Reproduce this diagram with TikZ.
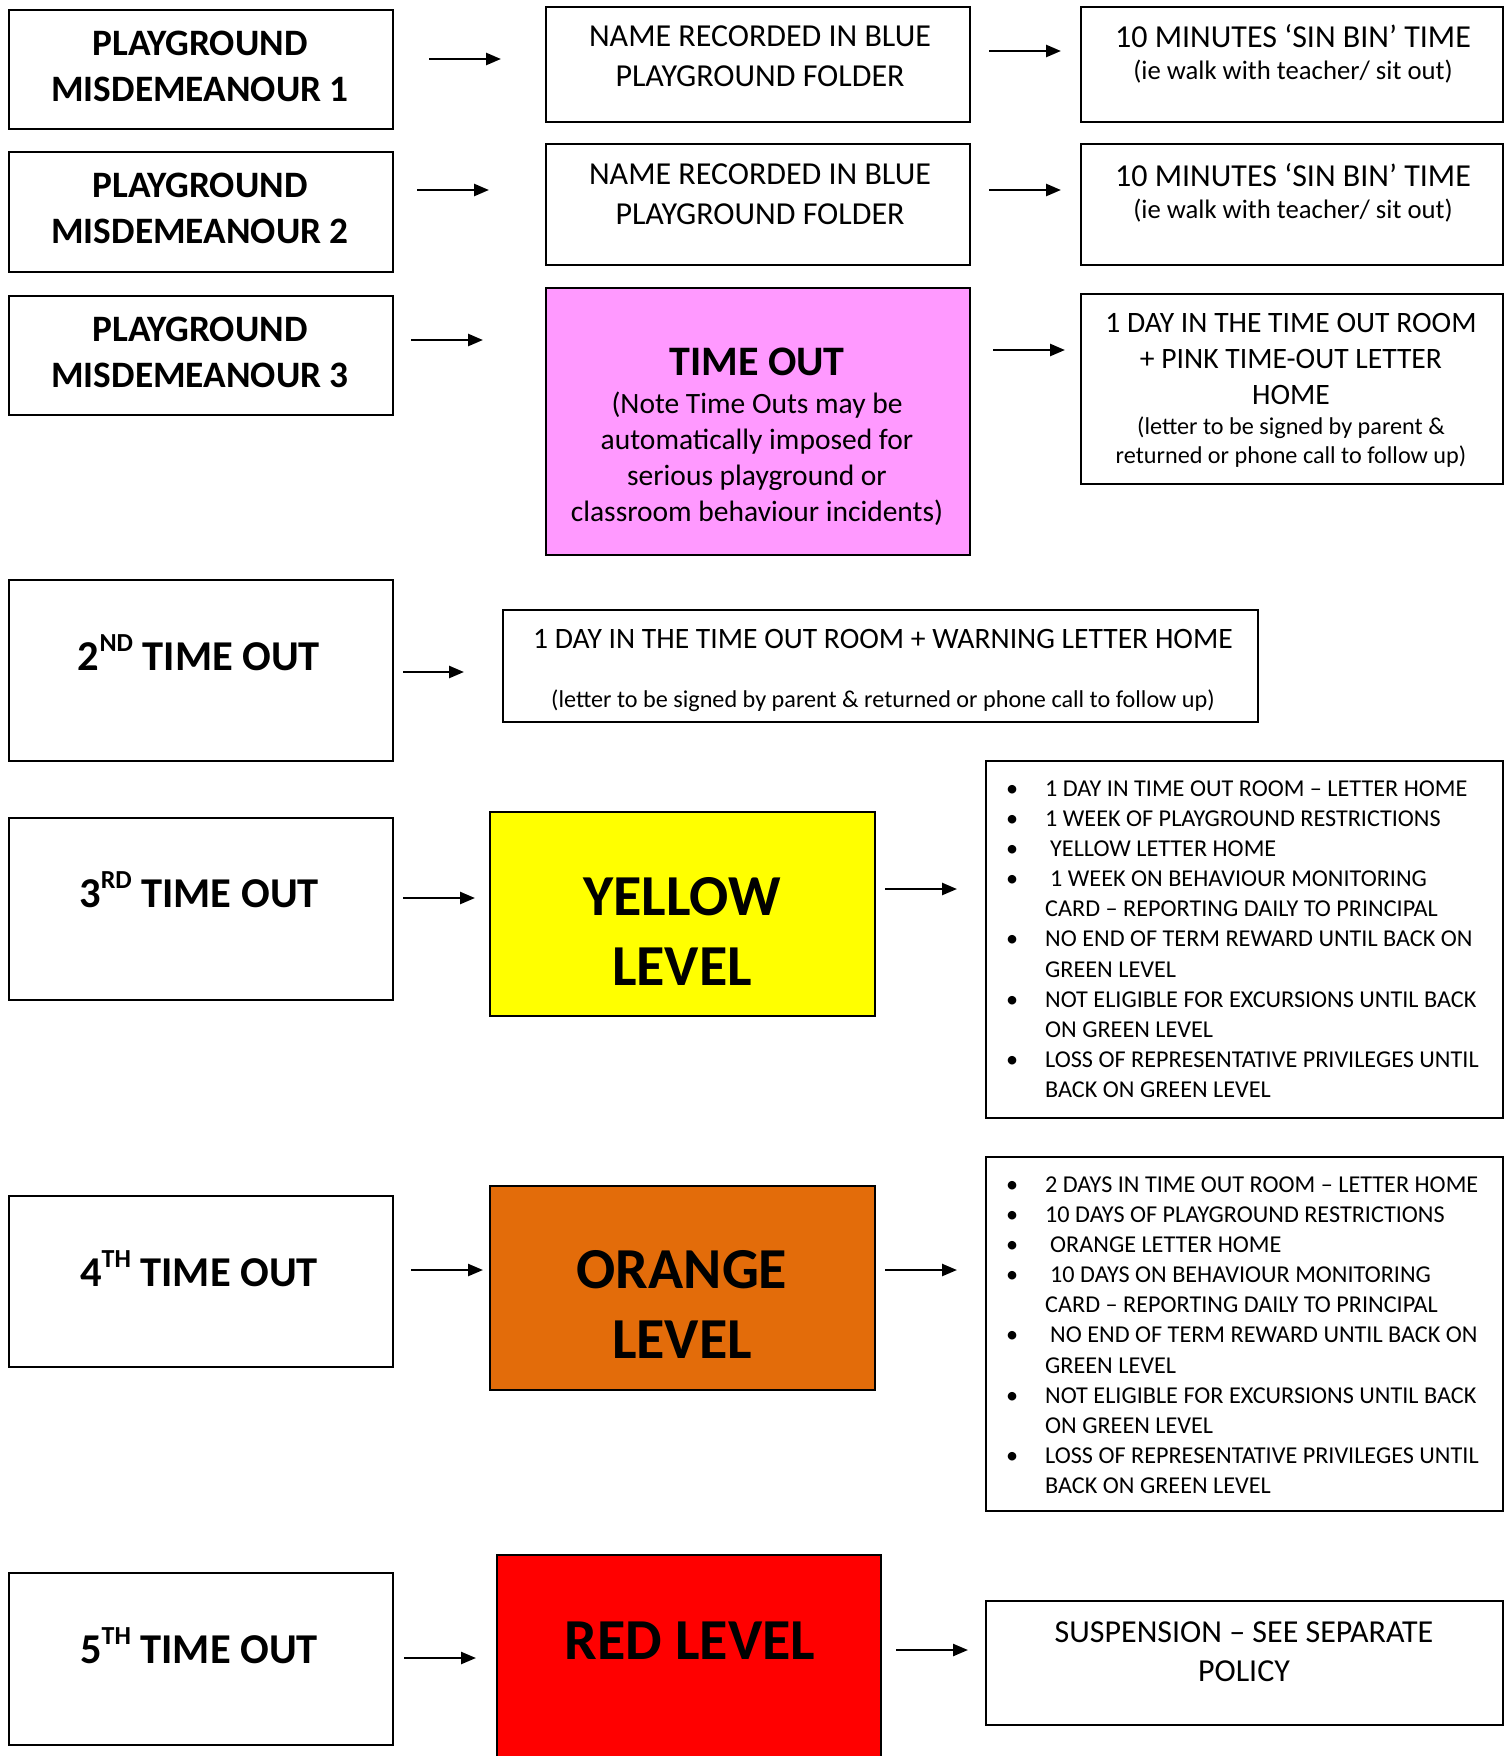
\documentclass[tikz,border=0pt]{standalone}
\usepackage{fontspec}
\setmainfont{Carlito}
\usetikzlibrary{arrows.meta}
\definecolor{pinkbox}{HTML}{FF99FF}
\definecolor{yellowbox}{HTML}{FFFF00}
\definecolor{orangebox}{HTML}{E36C0A}
\definecolor{redbox}{HTML}{FF0000}
\newcommand{\fs}[2]{\fontsize{#1}{#2}\selectfont}
\newcommand{\bitem}{\makebox[40pt][l]{\hspace{1pt}\textbullet}}
\newcommand{\bcont}{\hspace*{40pt}}
\newcommand{\supr}[1]{\raisebox{19pt}{\fs{26}{26}#1}}
\begin{document}
\begin{tikzpicture}[x=1pt,y=-1pt,
  box/.style={draw=black, line width=2pt, rectangle, inner sep=0pt, anchor=north west},
  txt/.style={inner sep=0pt, align=center},
  arr/.style={-{Triangle[length=15pt,width=12pt]}, line width=2.5pt},
  pmtext/.style={txt, font=\bfseries\fs{37.3}{46}},
  totext/.style={txt, font=\bfseries\fs{42.5}{46}},
  midtext/.style={txt, font=\fs{32}{40}},
  smalltext/.style={txt, font=\fs{26.7}{30}},
  leveltext/.style={txt, font=\bfseries\fs{58}{70}},
  listtext/.style={inner sep=0pt, anchor=north west, align=left, font=\fs{24.2}{30.1}},
]
\useasboundingbox (0,0) rectangle (1505,1756);

% ---- boxes ----
\node[box, minimum width=384pt, minimum height=119pt] (pm1) at (8,9) {};
\node[box, minimum width=384pt, minimum height=120pt] (pm2) at (8,151) {};
\node[box, minimum width=384pt, minimum height=119pt] (pm3) at (8,295) {};
\node[box, minimum width=424pt, minimum height=115pt] (nm1) at (545,6) {};
\node[box, minimum width=424pt, minimum height=121pt] (nm2) at (545,143) {};
\node[box, fill=pinkbox, minimum width=424pt, minimum height=267pt] (pink) at (545,287) {};
\node[box, minimum width=422pt, minimum height=115pt] (sb1) at (1080,6) {};
\node[box, minimum width=422pt, minimum height=121pt] (sb2) at (1080,143) {};
\node[box, minimum width=422pt, minimum height=190pt] (day) at (1080,293) {};
\node[box, minimum width=384pt, minimum height=181pt] (to2) at (8,579) {};
\node[box, minimum width=755pt, minimum height=112pt] (warn) at (502,609) {};
\node[box, minimum width=384pt, minimum height=182pt] (to3) at (8,817) {};
\node[box, fill=yellowbox, minimum width=385pt, minimum height=204pt] (yel) at (489,811) {};
\node[box, minimum width=517pt, minimum height=357pt] (ylist) at (985,760) {};
\node[box, minimum width=384pt, minimum height=171pt] (to4) at (8,1195) {};
\node[box, fill=orangebox, minimum width=385pt, minimum height=204pt] (ora) at (489,1185) {};
\node[box, minimum width=517pt, minimum height=354pt] (olist) at (985,1156) {};
\node[box, minimum width=384pt, minimum height=172pt] (to5) at (8,1572) {};
\node[box, fill=redbox, minimum width=384pt, minimum height=230pt] (red) at (496,1554) {};
\node[box, minimum width=517pt, minimum height=124pt] (susp) at (985,1600) {};

% ---- texts ----
\node[pmtext] (pm1t) at (200,66.5) {PLAYGROUND\\MISDEMEANOUR 1};
\node[pmtext] (pm2t) at (200,208) {PLAYGROUND\\MISDEMEANOUR 2};
\node[pmtext] (pm3t) at (200,352) {PLAYGROUND\\MISDEMEANOUR 3};

\node[midtext] (nm1t) at (760,56) {NAME RECORDED IN BLUE\\PLAYGROUND FOLDER};
\node[midtext] (nm2t) at (760,194) {NAME RECORDED IN BLUE\\PLAYGROUND FOLDER};

\node[midtext] (sb1a) at (1293,36) {10 MINUTES ‘SIN BIN’ TIME};
\node[smalltext] (sb1b) at (1293,72) {(ie walk with teacher/ sit out)};
\node[midtext] (sb2a) at (1293,175) {10 MINUTES ‘SIN BIN’ TIME};
\node[smalltext] (sb2b) at (1293,211) {(ie walk with teacher/ sit out)};

\node[txt, font=\bfseries\fs{42}{46}] (pinkt) at (757,362) {TIME OUT};
\node[txt, font=\fs{29.5}{36}] (pinkn) at (757,459) {(Note Time Outs may be\\automatically imposed for\\serious playground or\\classroom behaviour incidents)};

\node[txt, font=\fs{29.6}{36}] (dayt) at (1291,359) {1 DAY IN THE TIME OUT ROOM\\+ PINK TIME-OUT LETTER\\HOME};
\node[txt, font=\fs{24.2}{29}] (dayn) at (1291,442) {(letter to be signed by parent \&\\returned or phone call to follow up)};

\node[totext] (to2t) at (199,653) {2\supr{ND} TIME OUT};
\node[txt, font=\fs{29.6}{36}] (warnt) at (883,639) {1 DAY IN THE TIME OUT ROOM + WARNING LETTER HOME};
\node[txt, font=\fs{24.2}{29}] (warnn) at (883,701) {(letter to be signed by parent \& returned or phone call to follow up)};

\node[totext] (to3t) at (199,890) {3\supr{RD} TIME OUT};
\node[leveltext] (yelt) at (682,931) {YELLOW\\LEVEL};
\node[listtext] (ylt) at (1005,780.5) {%
\bitem 1 DAY IN TIME OUT ROOM – LETTER HOME\\
\bitem 1 WEEK OF PLAYGROUND RESTRICTIONS\\
\bitem\hspace*{5pt}YELLOW LETTER HOME\\
\bitem\hspace*{5pt}1 WEEK ON BEHAVIOUR MONITORING\\
\bcont CARD – REPORTING DAILY TO PRINCIPAL\\
\bitem NO END OF TERM REWARD UNTIL BACK ON\\
\bcont GREEN LEVEL\\
\bitem NOT ELIGIBLE FOR EXCURSIONS UNTIL BACK\\
\bcont ON GREEN LEVEL\\
\bitem LOSS OF REPRESENTATIVE PRIVILEGES UNTIL\\
\bcont BACK ON GREEN LEVEL};

\node[totext] (to4t) at (199,1269) {4\supr{TH} TIME OUT};
\node[leveltext] (orat) at (682,1304.5) {ORANGE\\LEVEL};
\node[listtext] (olt) at (1005,1176.5) {%
\bitem 2 DAYS IN TIME OUT ROOM – LETTER HOME\\
\bitem 10 DAYS OF PLAYGROUND RESTRICTIONS\\
\bitem\hspace*{5pt}ORANGE LETTER HOME\\
\bitem\hspace*{5pt}10 DAYS ON BEHAVIOUR MONITORING\\
\bcont CARD – REPORTING DAILY TO PRINCIPAL\\
\bitem\hspace*{5pt}NO END OF TERM REWARD UNTIL BACK ON\\
\bcont GREEN LEVEL\\
\bitem NOT ELIGIBLE FOR EXCURSIONS UNTIL BACK\\
\bcont ON GREEN LEVEL\\
\bitem LOSS OF REPRESENTATIVE PRIVILEGES UNTIL\\
\bcont BACK ON GREEN LEVEL};

\node[totext] (to5t) at (199,1646) {5\supr{TH} TIME OUT};
\node[leveltext] (redt) at (690,1641) {RED LEVEL};
\node[txt, font=\fs{32}{39}] (suspt) at (1244,1651.5) {SUSPENSION – SEE SEPARATE\\POLICY};

% ---- arrows ----
\coordinate (a1s) at (429,59);   \coordinate (a1e) at (501,59);
\coordinate (a2s) at (989,51);   \coordinate (a2e) at (1061,51);
\coordinate (a3s) at (417,190);  \coordinate (a3e) at (489,190);
\coordinate (a4s) at (989,190);  \coordinate (a4e) at (1061,190);
\coordinate (a5s) at (411,340);  \coordinate (a5e) at (483,340);
\coordinate (a6s) at (993,350);  \coordinate (a6e) at (1065,350);
\coordinate (a7s) at (403,672);  \coordinate (a7e) at (464,672);
\coordinate (a8s) at (403,898);  \coordinate (a8e) at (475,898);
\coordinate (a9s) at (885,889);  \coordinate (a9e) at (957,889);
\coordinate (a10s) at (411,1270); \coordinate (a10e) at (483,1270);
\coordinate (a11s) at (885,1270); \coordinate (a11e) at (957,1270);
\coordinate (a12s) at (404,1658); \coordinate (a12e) at (476,1658);
\coordinate (a13s) at (896,1650); \coordinate (a13e) at (968,1650);
\foreach \i in {1,...,13} {\draw[arr] (a\i s) -- (a\i e);}
\end{tikzpicture}
\end{document}
